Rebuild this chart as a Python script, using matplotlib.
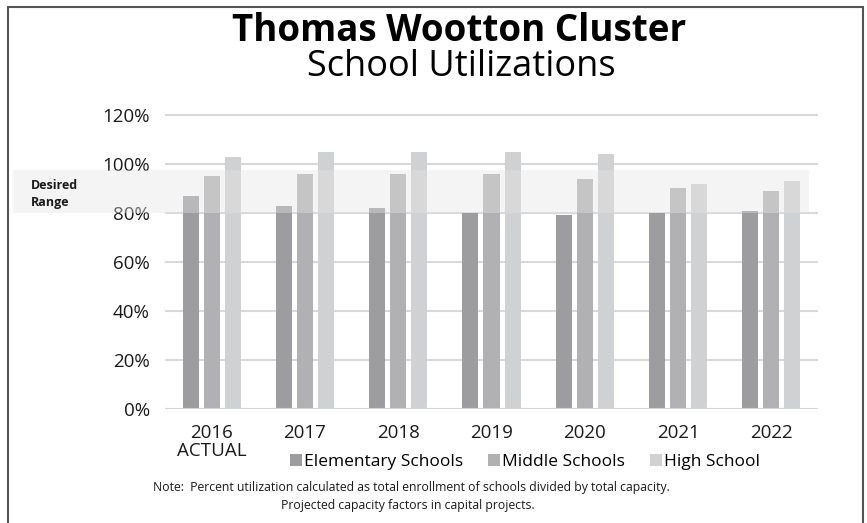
import numpy as np
import matplotlib
matplotlib.use("Agg")
import matplotlib.pyplot as plt
from matplotlib.patches import Patch, Rectangle
from matplotlib.transforms import blended_transform_factory

plt.rcParams['font.family'] = ['Open Sans', 'DejaVu Sans']

years = ["2016\nACTUAL", "2017", "2018", "2019", "2020", "2021", "2022"]
elementary = [87, 83, 82, 80, 79, 80, 81]
middle = [95, 96, 96, 96, 94, 90, 89]
high = [103, 105, 105, 105, 104, 92, 93]
series_names = ["Elementary Schools", "Middle Schools", "High School"]
colors = ["#9d9da0", "#b1b1b4", "#d0d1d3"]
desired_low, desired_high = 80, 97.5

W, H = 867, 523
fig = plt.figure(figsize=(W / 100, H / 100), dpi=100)
ax = fig.add_axes([165 / W, (H - 409) / H, 653 / W, 306.25 / H])

x = np.arange(len(years))
width = 0.172
offset = 0.226
for i, (vals, c) in enumerate(zip([elementary, middle, high], colors)):
    ax.bar(x + (i - 1) * offset, vals, width, color=c, zorder=2)

ax.set_xlim(-0.5, len(years) - 0.5)
ax.set_ylim(0, 125)
ax.set_yticks(np.arange(0, 121, 20))
ax.yaxis.set_major_formatter(lambda v, p: "{:.0f}%".format(v))
ax.set_xticks(x)
ax.set_xticklabels(years)
for lab in ax.get_xticklabels():
    lab.set_linespacing(1.0)
ax.tick_params(axis='both', length=0, colors='#1a1a1a')
ax.tick_params(axis='x', labelsize=13.5, pad=11)
ax.tick_params(axis='y', labelsize=13.5, pad=11)
ax.grid(axis='y', color='#d9d9d9', linewidth=1.5, zorder=0)
for s in ax.spines.values():
    s.set_visible(False)
ax.axhline(0, color='#d4d4d4', linewidth=1.5, zorder=3)

# desired range band drawn over the bars
tr = blended_transform_factory(fig.transFigure, ax.transData)
band = Rectangle((13 / W, desired_low), (809 - 13) / W, desired_high - desired_low,
                 transform=tr, facecolor='#e5e5e5', alpha=0.39, edgecolor='none',
                 zorder=4, clip_on=False)
ax.add_patch(band)
ax.text(31 / W, 87.8, "Desired\nRange", transform=tr, fontsize=9, fontweight='bold',
        va='center', ha='left', linespacing=1.35, color='#1a1a1a', zorder=5)

fig.text(459 / W, 1 - 31 / H, "Thomas Wootton Cluster", ha='center', va='center',
         fontsize=26.5, fontweight='bold', color='black')
fig.text(461 / W, 1 - 67 / H, "School Utilizations", ha='center', va='center',
         fontsize=26, color='black')

handles = [Patch(facecolor=c, edgecolor='none') for c in colors]
fig.legend(handles, series_names, loc='center', bbox_to_anchor=(525 / W, 1 - 462 / H),
           ncol=3, frameon=False, fontsize=12.5, handlelength=0.7, handleheight=0.7,
           handletextpad=0.1, columnspacing=1.45, borderaxespad=0)

fig.text(411 / W, 1 - 488 / H,
         "Note:  Percent utilization calculated as total enrollment of schools divided by total capacity.",
         ha='center', va='center', fontsize=8.8, color='#1a1a1a')
fig.text(408 / W, 1 - 506 / H, "Projected capacity factors in capital projects.",
         ha='center', va='center', fontsize=8.8, color='#1a1a1a')

frame = Rectangle((8 / W, -0.05), (863 - 8) / W, 1.05 - 7 / H, transform=fig.transFigure,
                  facecolor='none', edgecolor='#555555', linewidth=1.5)
fig.add_artist(frame)

fig.savefig("out.png", dpi=100)
